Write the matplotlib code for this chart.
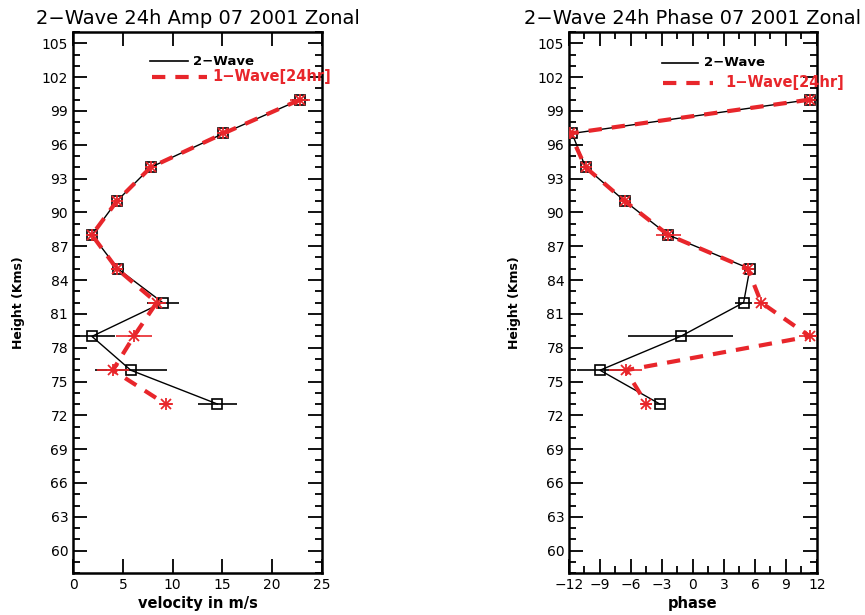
import matplotlib
matplotlib.use("Agg")
import matplotlib.pyplot as plt
from matplotlib.ticker import MultipleLocator

# heights of the retrieved levels (km)
heights = [100, 97, 94, 91, 88, 85, 82, 79, 76, 73]

# amplitude (m/s) and errors
amp_2wave = [22.8, 15.1, 7.8, 4.4, 1.9, 4.5, 9.0, 1.9, 5.8, 14.5]
amp_2wave_err = [0.8, 0.4, 0.3, 0.3, 0.4, 0.6, 1.6, 2.3, 3.6, 2.0]
amp_1wave = [22.8, 15.1, 7.8, 4.4, 1.9, 4.4, 8.4, 6.1, 4.0, 9.3]
amp_1wave_err = [1.0, 0.4, 0.3, 0.3, 0.3, 0.6, 0.9, 1.8, 1.6, 0.7]

# phase (hours) and errors
phase_2wave = [11.3, -11.7, -10.4, -6.6, -2.4, 5.5, 4.9, -1.2, -9.0, -3.2]
phase_2wave_err = [0.3, 0.3, 0.2, 0.3, 0.6, 0.4, 0.8, 5.1, 2.2, 0.5]
phase_1wave = [11.3, -11.9, -10.4, -6.6, -2.4, 5.3, 6.6, 11.3, -6.5, -4.5]
phase_1wave_err = [0.3, 0.3, 0.3, 0.3, 1.2, 0.3, 0.7, 1.0, 1.6, 0.5]

yticks = list(range(60, 106, 3))

RED = "#e8262b"
DASH = (0, (3.2, 2.4))

plt.rcParams["font.family"] = ["DejaVu Sans"]

fig = plt.figure(figsize=(8.65, 6.15), dpi=100)
ax1 = fig.add_axes([0.0844, 0.068, 0.2879, 0.880])
ax2 = fig.add_axes([0.6578, 0.068, 0.2867, 0.880])


def draw_panel(ax, x2, e2, x1, e1, key):
    ax.errorbar(x2, heights, xerr=e2, color="black", lw=1, marker="s", ms=7.5,
                mfc="none", mec="black", mew=1.2, elinewidth=1.2, capsize=0, zorder=3)
    ax.errorbar(x1, heights, xerr=e1, color=RED, ls=DASH, lw=3,
                marker="x", ms=7, mew=1.3, elinewidth=1.2, capsize=0, zorder=4)
    ax.plot(x1, heights, ls="none", marker="+", ms=9, mew=1.3, color=RED, zorder=4)
    ax.set_ylim(58, 106)
    ax.set_yticks(yticks)
    ax.yaxis.set_minor_locator(MultipleLocator(1))
    ax.set_ylabel("Height (Kms)", fontsize=9, fontweight="bold", labelpad=12)
    ax.tick_params(which="both", direction="in", top=True, right=True,
                   labelsize=10, width=1.3)
    ax.tick_params(which="major", length=10)
    ax.tick_params(which="minor", length=5)
    for s in ax.spines.values():
        s.set_linewidth(1.8)

    # key: black line + label, red dashed line + label (axes fractions)
    (bx0, bx1, btx, by), (rx0, rx1, rtx, ry) = key
    ax.plot([bx0, bx1], [by, by], color="black", lw=1.2, transform=ax.transAxes,
            clip_on=False)
    ax.text(btx, by, "2\u2212Wave", color="black", fontsize=9.5, fontweight="bold",
            va="center", ha="left", transform=ax.transAxes)
    ax.plot([rx0, rx1], [ry, ry], color=RED, lw=3, ls=DASH, transform=ax.transAxes,
            clip_on=False)
    ax.text(rtx, ry, "1\u2212Wave[24hr]", color=RED, fontsize=10.5, fontweight="bold",
            va="center", ha="left", transform=ax.transAxes, clip_on=False)


draw_panel(ax1, amp_2wave, amp_2wave_err, amp_1wave, amp_1wave_err,
           ((0.309, 0.462, 0.482, 0.946), (0.317, 0.538, 0.558, 0.917)))
ax1.set_xlim(0, 25)
ax1.set_xticks([0, 5, 10, 15, 20, 25])
ax1.set_xlabel("velocity in m/s", fontsize=10.5, fontweight="bold", labelpad=3)
ax1.set_title("2\u2212Wave 24h Amp 07 2001 Zonal", fontsize=14, pad=6)

draw_panel(ax2, phase_2wave, phase_2wave_err, phase_1wave, phase_1wave_err,
           ((0.375, 0.520, 0.544, 0.943), (0.379, 0.581, 0.629, 0.906)))
ax2.set_xlim(-12, 12)
ax2.set_xticks(range(-12, 13, 3))
ax2.xaxis.set_minor_locator(MultipleLocator(1.5))
ax2.set_xlabel("phase", fontsize=10.5, fontweight="bold", labelpad=3)
ax2.set_title("2\u2212Wave 24h Phase 07 2001 Zonal", fontsize=14, pad=6)

fig.savefig("out.png", dpi=100)
